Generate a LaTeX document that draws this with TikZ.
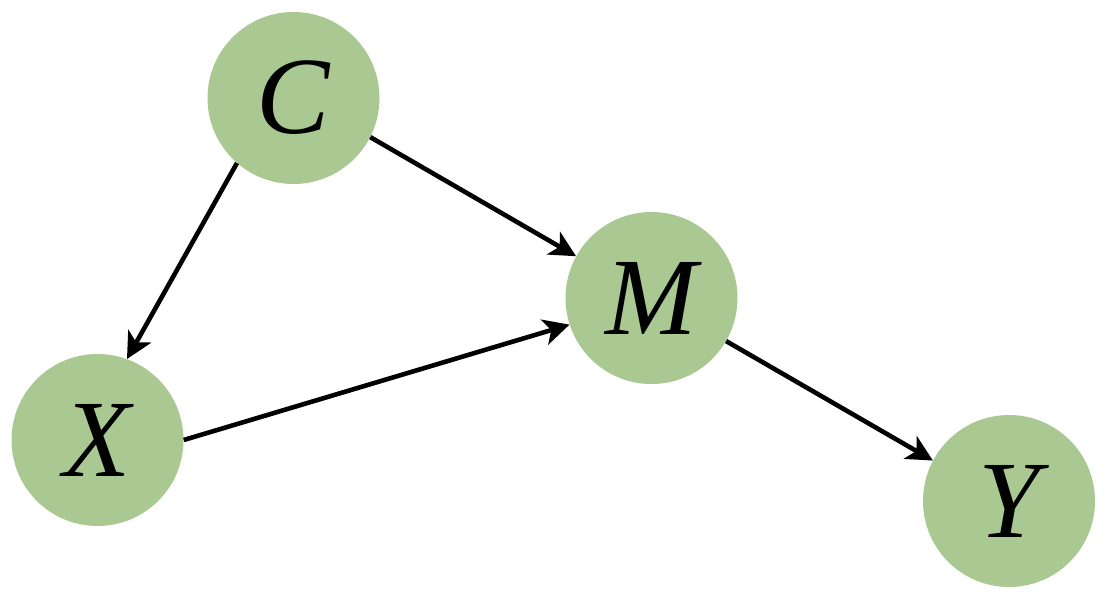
\documentclass[tikz,border=0pt]{standalone}
\usepackage{fontspec}
\setmainfont{Liberation Serif}
\usetikzlibrary{arrows.meta}
\definecolor{nodegreen}{RGB}{170,200,145}
\begin{document}
\begin{tikzpicture}[x=1pt,y=-1pt,
  var/.style={circle,fill=nodegreen,minimum size=172pt,inner sep=0pt,
    font=\fontsize{110}{112}\selectfont\itshape},
  edge/.style={line width=4.6pt,-{Stealth[length=26pt,width=26pt,inset=7pt]}}]
\useasboundingbox (0,0) rectangle (1114,603);
\node[var] (C) at (293.5,98) {C};
\node[var] (X) at (97.5,440) {X};
\node[var] (M) at (651.5,298) {M};
\node[var] (Y) at (1009,501) {Y};
\draw[edge] (C.229) -- (X.70);
\draw[edge] (C.333) -- (M.151);
\draw[edge] (X.0) -- (M.198);
\draw[edge] (M.330.5) -- (Y.152);
\end{tikzpicture}
\end{document}
